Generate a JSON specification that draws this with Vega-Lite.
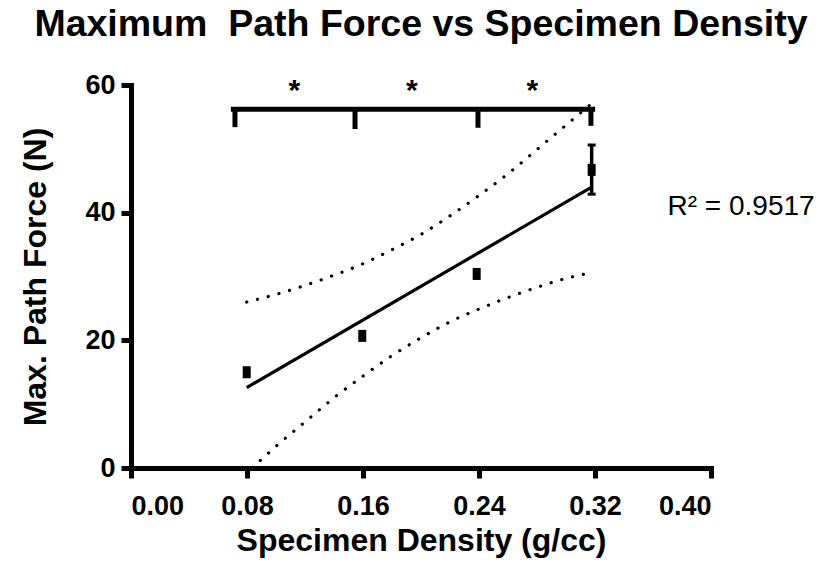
{
  "$schema": "https://vega.github.io/schema/vega-lite/v6.json",
  "autosize": {"type": "none"},
  "padding": {"left": 131, "top": 85, "right": 108, "bottom": 96},
  "width": 580,
  "height": 383,
  "background": "white",
  "title": {
    "text": "Maximum\u00a0 Path Force vs Specimen Density",
    "font": "Liberation Sans",
    "fontSize": 37.5,
    "fontWeight": "bold",
    "color": "black",
    "anchor": "middle",
    "baseline": "alphabetic",
    "offset": -2
  },
  "datasets": {
    "pts": [
      {"d": 0.0798, "f": 15.0},
      {"d": 0.1595, "f": 20.7},
      {"d": 0.2384, "f": 30.4},
      {"d": 0.3177, "f": 46.7}
    ],
    "err": [{"d": 0.3177, "lo": 42.9, "hi": 50.6}],
    "fit": [{"d": 0.0798, "f": 12.6}, {"d": 0.3177, "f": 44.0}],
    "band": [
      {"b": "upper", "d": 0.0798, "f": 26.0},
      {"b": "upper", "d": 0.10, "f": 27.2},
      {"b": "upper", "d": 0.12, "f": 28.6},
      {"b": "upper", "d": 0.14, "f": 30.2},
      {"b": "upper", "d": 0.16, "f": 32.0},
      {"b": "upper", "d": 0.18, "f": 34.2},
      {"b": "upper", "d": 0.20, "f": 36.6},
      {"b": "upper", "d": 0.22, "f": 39.5},
      {"b": "upper", "d": 0.24, "f": 42.7},
      {"b": "upper", "d": 0.26, "f": 46.1},
      {"b": "upper", "d": 0.28, "f": 49.9},
      {"b": "upper", "d": 0.30, "f": 53.7},
      {"b": "upper", "d": 0.3177, "f": 57.1},
      {"b": "lower", "d": 0.0835, "f": 0.0},
      {"b": "lower", "d": 0.10, "f": 3.4},
      {"b": "lower", "d": 0.12, "f": 7.2},
      {"b": "lower", "d": 0.14, "f": 11.0},
      {"b": "lower", "d": 0.16, "f": 14.4},
      {"b": "lower", "d": 0.18, "f": 17.6},
      {"b": "lower", "d": 0.20, "f": 20.4},
      {"b": "lower", "d": 0.22, "f": 22.9},
      {"b": "lower", "d": 0.24, "f": 24.9},
      {"b": "lower", "d": 0.26, "f": 26.7},
      {"b": "lower", "d": 0.28, "f": 28.3},
      {"b": "lower", "d": 0.30, "f": 29.7},
      {"b": "lower", "d": 0.3177, "f": 30.6}
    ],
    "bracketH": [{"x1": 0.0706, "x2": 0.3184, "y": 56.2}],
    "bracketV": [
      {"x": 0.0717, "y": 56.2, "y2": 53.4},
      {"x": 0.1545, "y": 56.2, "y2": 53.1},
      {"x": 0.2393, "y": 56.2, "y2": 53.3},
      {"x": 0.3172, "y": 56.2, "y2": 53.6}
    ],
    "stars": [
      {"x": 0.1126, "y": 57.6, "t": "*"},
      {"x": 0.1936, "y": 57.6, "t": "*"},
      {"x": 0.2768, "y": 57.6, "t": "*"}
    ],
    "r2": [{"x": 0.370, "y": 39.6, "t": "R² = 0.9517"}]
  },
  "layer": [
    {
      "data": {"name": "band"},
      "mark": {"type": "line", "color": "black", "strokeWidth": 3.2, "strokeDash": [0.1, 11], "strokeCap": "round", "interpolate": "monotone"},
      "encoding": {
        "x": {"field": "d", "type": "quantitative", "scale": {"domain": [0, 0.4], "nice": false}, "axis": {"values": [0, 0.08, 0.16, 0.24, 0.32, 0.4], "format": ".2f", "title": "Specimen Density (g/cc)", "labelPadding": 15, "titlePadding": 6}},
        "y": {"field": "f", "type": "quantitative", "scale": {"domain": [0, 60], "nice": false}, "axis": {"values": [0, 20, 40, 60], "title": "Max. Path Force (N)", "labelPadding": 6, "titlePadding": 32}},
        "detail": {"field": "b"}
      }
    },
    {
      "data": {"name": "fit"},
      "mark": {"type": "line", "color": "black", "strokeWidth": 3.2},
      "encoding": {
        "x": {"field": "d", "type": "quantitative"},
        "y": {"field": "f", "type": "quantitative"}
      }
    },
    {
      "data": {"name": "err"},
      "mark": {"type": "rule", "color": "black", "strokeWidth": 3.5},
      "encoding": {
        "x": {"field": "d", "type": "quantitative"},
        "y": {"field": "lo", "type": "quantitative"},
        "y2": {"field": "hi"}
      }
    },
    {
      "data": {"name": "err"},
      "mark": {"type": "tick", "color": "black", "orient": "horizontal", "size": 8, "thickness": 3, "opacity": 1},
      "encoding": {
        "x": {"field": "d", "type": "quantitative"},
        "y": {"field": "lo", "type": "quantitative"}
      }
    },
    {
      "data": {"name": "err"},
      "mark": {"type": "tick", "color": "black", "orient": "horizontal", "size": 8, "thickness": 3, "opacity": 1},
      "encoding": {
        "x": {"field": "d", "type": "quantitative"},
        "y": {"field": "hi", "type": "quantitative"}
      }
    },
    {
      "data": {"name": "pts"},
      "mark": {"type": "tick", "color": "black", "orient": "vertical", "size": 12, "thickness": 8, "opacity": 1},
      "encoding": {
        "x": {"field": "d", "type": "quantitative"},
        "y": {"field": "f", "type": "quantitative"}
      }
    },
    {
      "data": {"name": "bracketH"},
      "mark": {"type": "rule", "color": "black", "strokeWidth": 5, "strokeCap": "square"},
      "encoding": {
        "x": {"field": "x1", "type": "quantitative"},
        "x2": {"field": "x2"},
        "y": {"field": "y", "type": "quantitative"}
      }
    },
    {
      "data": {"name": "bracketV"},
      "mark": {"type": "rule", "color": "black", "strokeWidth": 5},
      "encoding": {
        "x": {"field": "x", "type": "quantitative"},
        "y": {"field": "y", "type": "quantitative"},
        "y2": {"field": "y2"}
      }
    },
    {
      "data": {"name": "stars"},
      "mark": {"type": "text", "font": "Liberation Sans", "fontWeight": "bold", "fontSize": 30, "color": "black", "baseline": "alphabetic", "align": "center"},
      "encoding": {
        "x": {"field": "x", "type": "quantitative"},
        "y": {"field": "y", "type": "quantitative"},
        "text": {"field": "t"}
      }
    },
    {
      "data": {"name": "r2"},
      "mark": {"type": "text", "font": "Liberation Sans", "fontSize": 28, "color": "black", "baseline": "alphabetic", "align": "left"},
      "encoding": {
        "x": {"field": "x", "type": "quantitative"},
        "y": {"field": "y", "type": "quantitative"},
        "text": {"field": "t"}
      }
    }
  ],
  "config": {
    "view": {"stroke": null},
    "axis": {
      "grid": false,
      "domainColor": "black",
      "domainWidth": 5,
      "domainCap": "square",
      "tickColor": "black",
      "tickWidth": 5,
      "tickSize": 10,
      "labelFont": "Liberation Sans",
      "labelFontWeight": "bold",
      "labelFontSize": 27,
      "labelColor": "black",
      "titleFont": "Liberation Sans",
      "titleFontWeight": "bold",
      "titleFontSize": 32,
      "titleColor": "black"
    }
  }
}
